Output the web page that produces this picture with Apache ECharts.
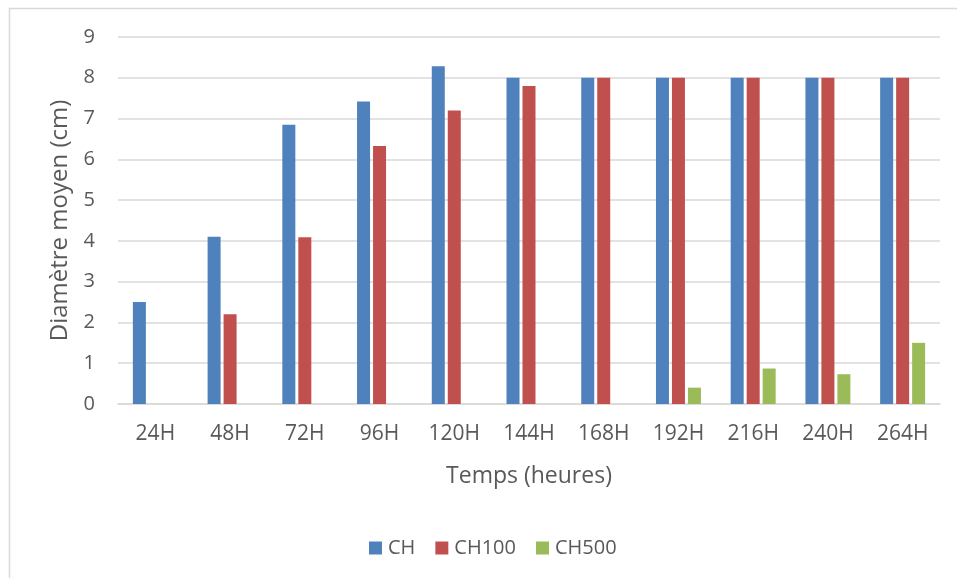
<!DOCTYPE html>
<html>
<head>
<meta charset="utf-8">
<script src="https://cdn.jsdelivr.net/npm/echarts@6/dist/echarts.min.js"></script>
<style>
  html, body { margin: 0; padding: 0; background: #fff; }
  #chart { width: 957px; height: 578px; }
</style>
</head>
<body>
<div id="chart"></div>
<script>
// Mean diameter over time for three treatments
const categories = ['24H', '48H', '72H', '96H', '120H', '144H', '168H', '192H', '216H', '240H', '264H'];
const seriesNames = ['CH', 'CH100', 'CH500'];
const valuesCH = [2.5, 4.1, 6.85, 7.42, 8.28, 8, 8, 8, 8, 8, 8];
const valuesCH100 = [null, 2.2, 4.09, 6.33, 7.2, 7.8, 8, 8, 8, 8, 8];
const valuesCH500 = [null, null, null, null, null, null, null, 0.4, 0.87, 0.73, 1.5];
const yTicks = [0, 1, 2, 3, 4, 5, 6, 7, 8, 9];

const colors = ['#4f81bd', '#c0504d', '#9bbb59'];
const FONT = '"Open Sans", sans-serif';
const TEXT = '#595959';

const chart = echarts.init(document.getElementById('chart'), null, { renderer: 'canvas' });

const data = [valuesCH, valuesCH100, valuesCH500];

chart.setOption({
  animation: false,
  backgroundColor: '#ffffff',
  color: colors,
  graphic: [{
    type: 'rect',
    shape: { x: 9.5, y: 8.5, width: 960, height: 580 },
    style: { fill: 'none', stroke: '#d9d9d9', lineWidth: 1.5 },
    silent: true
  }],
  grid: { left: 118, right: 17, top: 37, bottom: 174, containLabel: false },
  legend: {
    data: seriesNames,
    top: 533,
    left: 364,
    itemWidth: 13,
    itemHeight: 13,
    itemGap: 20,
    icon: 'rect',
    textStyle: { fontFamily: FONT, fontSize: 20, color: TEXT, padding: [0, 0, 0, 1] }
  },
  xAxis: {
    type: 'category',
    data: categories,
    name: 'Temps (heures)',
    nameLocation: 'middle',
    nameGap: 61,
    nameTextStyle: { fontFamily: FONT, fontSize: 23, color: TEXT },
    axisLine: { lineStyle: { color: '#d9d9d9', width: 1.5 } },
    axisTick: { show: false },
    axisLabel: { fontFamily: FONT, fontSize: 21, color: TEXT, margin: 20 }
  },
  yAxis: {
    type: 'value',
    min: yTicks[0],
    max: yTicks[yTicks.length - 1],
    interval: 1,
    name: 'Diamètre moyen (cm)',
    nameLocation: 'middle',
    nameGap: 46,
    nameTextStyle: { fontFamily: FONT, fontSize: 24, color: TEXT },
    axisLine: { show: false },
    axisTick: { show: false },
    splitLine: { lineStyle: { color: '#d9d9d9', width: 1.5 } },
    axisLabel: { fontFamily: FONT, fontSize: 20, color: TEXT, margin: 23 }
  },
  series: seriesNames.map((name, i) => ({
    name,
    type: 'bar',
    data: data[i],
    barWidth: 13,
    barGap: '23%',
    itemStyle: { color: colors[i] }
  }))
});
</script>
</body>
</html>
